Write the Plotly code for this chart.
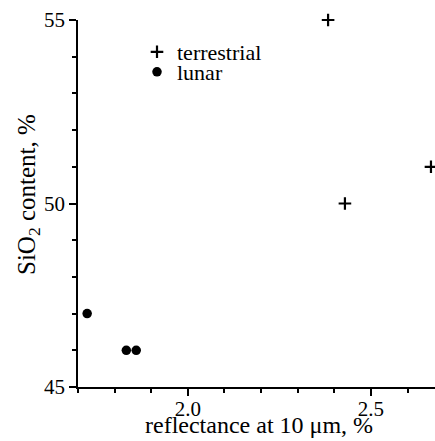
import plotly.graph_objects as go

# data
terr_x = [2.383, 2.664, 2.429]
terr_y = [55.0, 51.0, 50.0]
lunar_x = [1.725, 1.832, 1.859]
lunar_y = [47.0, 46.0, 46.0]

x_range = [1.7, 2.675]
y_range = [45, 55]
x_title = "reflectance at 10 μm, %"
y_title = "SiO<sub>2</sub> content, %"

FONT = "Liberation Serif"

fig = go.Figure()
fig.add_trace(go.Scatter(
    x=terr_x, y=terr_y, mode="markers", name="terrestrial",
    marker=dict(symbol="cross-thin", size=9, line=dict(width=2.2, color="black"), color="black"),
    cliponaxis=False, legend="legend"))
fig.add_trace(go.Scatter(
    x=lunar_x, y=lunar_y, mode="markers", name="lunar",
    marker=dict(symbol="circle", size=9.5, color="black"),
    cliponaxis=False, legend="legend2"))

axis_common = dict(
    showline=True, linecolor="black", linewidth=1.5, mirror=False,
    showgrid=False, zeroline=False, ticks="outside", ticklen=7, tickwidth=1.5,
    tickcolor="black", tickfont=dict(family=FONT, size=21, color="black"),
)

fig.update_xaxes(
    range=x_range, tick0=2.0, dtick=0.5, tickformat=".1f", ticklabelstandoff=-5,
    minor=dict(dtick=0.1, tick0=2.0, ticks="outside", ticklen=4, tickwidth=1.5, tickcolor="black"),
    **axis_common)
fig.update_yaxes(
    range=y_range, tick0=45, dtick=5,
    minor=dict(dtick=1, ticks="outside", ticklen=4, tickwidth=1.5, tickcolor="black"),
    **axis_common)

# axis titles as annotations for precise placement
fig.add_annotation(text=x_title, xref="paper", yref="paper", x=(259 - 78) / 357, y=0,
                   xanchor="center", yanchor="middle", yshift=-(425 - 387), showarrow=False,
                   font=dict(family=FONT, size=24, color="black"))
fig.add_annotation(text=y_title, xref="paper", yref="paper", x=0, y=(387 - 195) / 367,
                   xanchor="center", yanchor="middle", xshift=-(78 - 28), textangle=-90,
                   showarrow=False, font=dict(family=FONT, size=25, color="black"))

leg_common = dict(font=dict(family=FONT, size=22, color="black"), bgcolor="rgba(0,0,0,0)",
                  xanchor="left", yanchor="middle", borderwidth=0, itemwidth=30)
fig.update_layout(
    width=435, height=441,
    margin=dict(l=78, r=0, t=20, b=54, autoexpand=False),
    paper_bgcolor="white", plot_bgcolor="white",
    showlegend=True,
    legend=dict(x=(137 - 78) / 357, y=(387 - 52) / 367, **leg_common),
    legend2=dict(x=(137 - 78) / 357, y=(387 - 72) / 367, **leg_common),
)

fig.write_html("out.html")
